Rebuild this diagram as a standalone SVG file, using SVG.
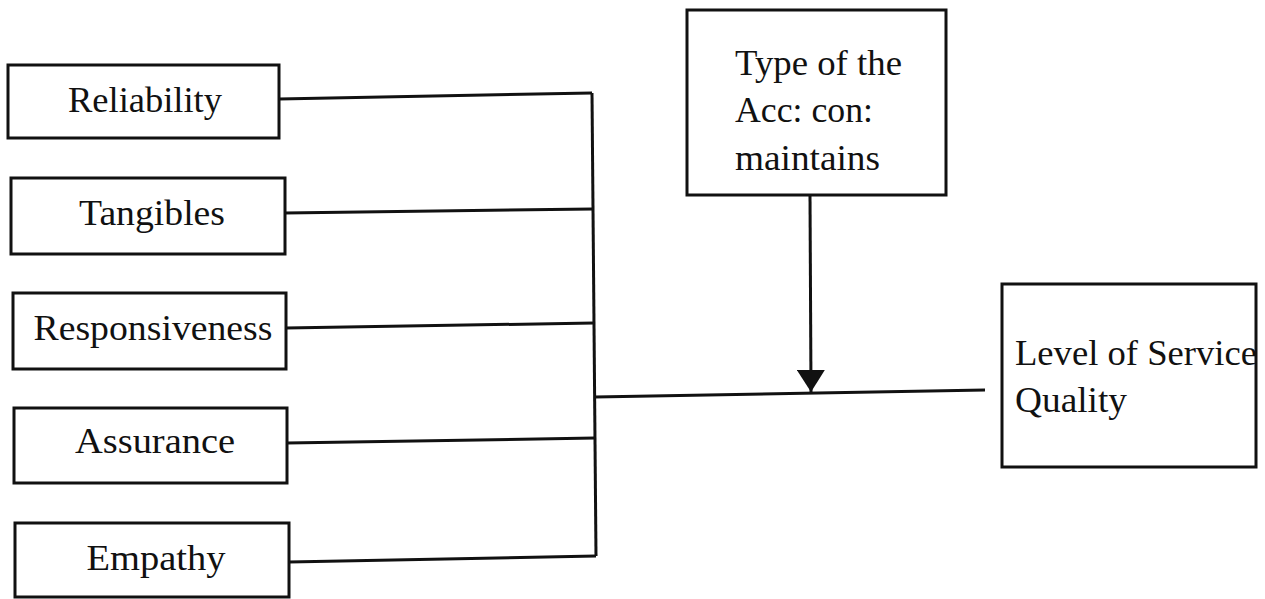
<svg xmlns="http://www.w3.org/2000/svg" width="1265" height="599" viewBox="0 0 1265 599">
<style>
.box{fill:#fff;stroke:#111;stroke-width:3}
.lbl{font-family:"Liberation Serif","Times New Roman",serif;font-size:36px;fill:#111}
.c{text-anchor:middle}
.wire{fill:none;stroke:#111;stroke-width:3}
</style>
<defs>
<marker id="ah" markerUnits="userSpaceOnUse" viewBox="0 0 22 28" refX="22" refY="14" markerWidth="22" markerHeight="28" orient="auto">
<path d="M0,0 L22,14 L0,28 Z" fill="#111"/>
</marker>
</defs>
<rect width="1265" height="599" fill="#fff"/>
<g id="connectors">
<path class="wire" d="M279,99 L592,93"/>
<path class="wire" d="M285,213 L593,209"/>
<path class="wire" d="M286,328 L594,323"/>
<path class="wire" d="M287,443 L595,438"/>
<path class="wire" d="M289,562 L596,556"/>
<path class="wire" d="M592,93 L596,556"/>
<path class="wire" d="M595,397 L985,390"/>
<path class="wire" d="M810,195 L811,392" marker-end="url(#ah)"/>
</g>
<g id="reliability">
<rect class="box" x="8" y="65" width="271" height="73"/>
<text class="lbl c" x="145" y="112" textLength="154" lengthAdjust="spacingAndGlyphs">Reliability</text>
</g>
<g id="tangibles">
<rect class="box" x="11" y="178" width="274" height="76"/>
<text class="lbl c" x="152" y="225" textLength="146" lengthAdjust="spacingAndGlyphs">Tangibles</text>
</g>
<g id="responsiveness">
<rect class="box" x="13" y="293" width="273" height="76"/>
<text class="lbl c" x="153" y="340" textLength="239" lengthAdjust="spacingAndGlyphs">Responsiveness</text>
</g>
<g id="assurance">
<rect class="box" x="14" y="408" width="273" height="75"/>
<text class="lbl c" x="155" y="453" textLength="160" lengthAdjust="spacingAndGlyphs">Assurance</text>
</g>
<g id="empathy">
<rect class="box" x="15" y="523" width="274" height="74"/>
<text class="lbl c" x="156" y="570" textLength="139" lengthAdjust="spacingAndGlyphs">Empathy</text>
</g>
<g id="type-of-acc">
<rect class="box" x="687" y="10" width="259" height="185"/>
<text class="lbl" x="735" y="75" textLength="167" lengthAdjust="spacingAndGlyphs">Type of the</text>
<text class="lbl" x="735" y="122" textLength="138" lengthAdjust="spacingAndGlyphs">Acc: con:</text>
<text class="lbl" x="735" y="170" textLength="145" lengthAdjust="spacingAndGlyphs">maintains</text>
</g>
<g id="level-of-service-quality">
<rect class="box" x="1002" y="284" width="254" height="183"/>
<text class="lbl" x="1015" y="365" textLength="242" lengthAdjust="spacingAndGlyphs">Level of Service</text>
<text class="lbl" x="1015" y="412" textLength="112" lengthAdjust="spacingAndGlyphs">Quality</text>
</g>
</svg>
